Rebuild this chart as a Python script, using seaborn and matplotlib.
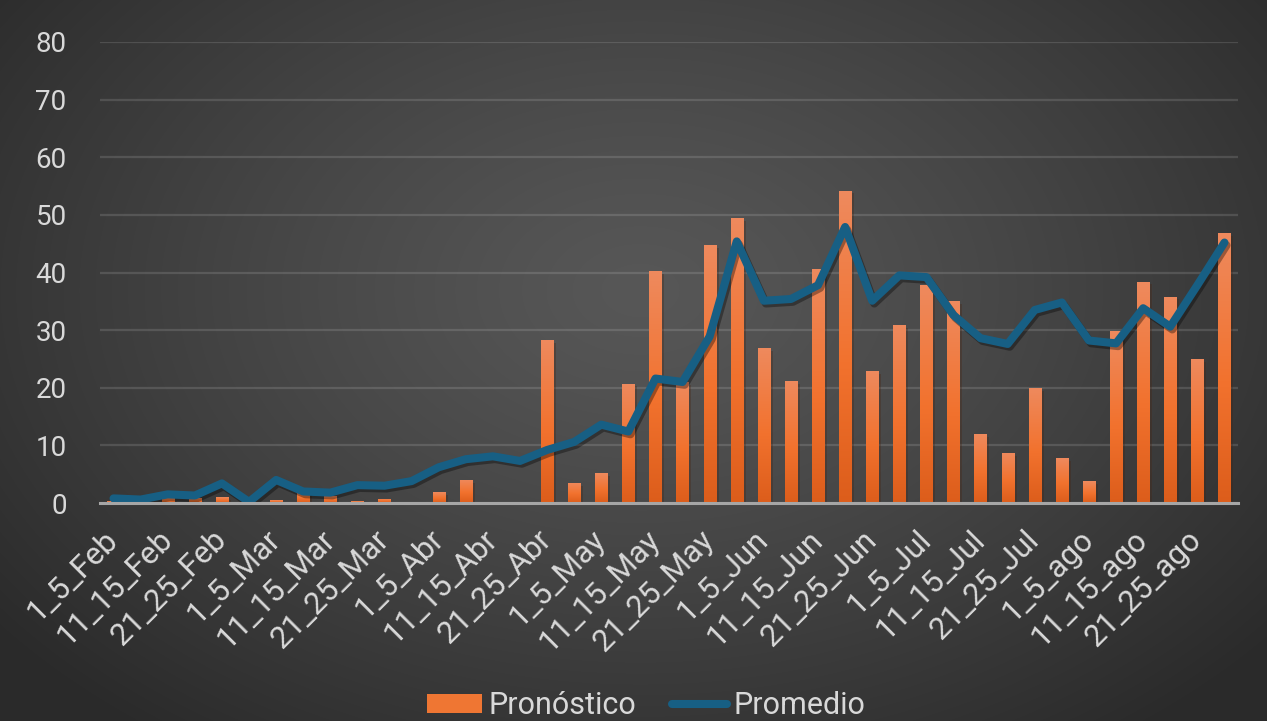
import numpy as np
import matplotlib
matplotlib.use("Agg")
import matplotlib.pyplot as plt
import matplotlib.patheffects as pe
from matplotlib.colors import LinearSegmentedColormap
from matplotlib.patches import Patch
from matplotlib.lines import Line2D
import seaborn as sns
import pandas as pd

# Five-day periods, February to August
periods = [
    "1_5_Feb", "6_10_Feb", "11_15_Feb", "16_20_Feb", "21_25_Feb", "26_28_Feb",
    "1_5_Mar", "6_10_Mar", "11_15_Mar", "16_20_Mar", "21_25_Mar", "26_31_Mar",
    "1_5_Abr", "6_10_Abr", "11_15_Abr", "16_20_Abr", "21_25_Abr", "26_30_Abr",
    "1_5_May", "6_10_May", "11_15_May", "16_20_May", "21_25_May", "26_31_May",
    "1_5_Jun", "6_10_Jun", "11_15_Jun", "16_20_Jun", "21_25_Jun", "26_30_Jun",
    "1_5_Jul", "6_10_Jul", "11_15_Jul", "16_20_Jul", "21_25_Jul", "26_31_Jul",
    "1_5_ago", "6_10_ago", "11_15_ago", "16_20_ago", "21_25_ago", "26_31_ago",
]

pronostico = [
    0.3, 0.0, 0.8, 0.8, 1.0, 0.0,
    0.5, 1.8, 1.2, 0.3, 0.7, 0.2,
    1.9, 4.0, 0.0, 0.0, 28.2, 3.5,
    5.2, 20.7, 40.3, 21.0, 44.8, 49.5,
    26.9, 21.2, 40.6, 54.2, 22.9, 30.9,
    37.8, 35.1, 12.0, 8.7, 20.0, 7.8,
    3.8, 29.9, 38.4, 35.8, 25.0, 46.9,
]

promedio = [
    0.8, 0.6, 1.5, 1.3, 3.4, 0.2,
    4.0, 2.0, 1.8, 3.1, 3.0, 3.8,
    6.2, 7.6, 8.1, 7.3, 9.2, 10.6,
    13.6, 12.4, 21.6, 21.0, 28.9, 45.4,
    35.1, 35.4, 37.8, 47.9, 35.1, 39.5,
    39.2, 32.6, 28.6, 27.6, 33.5, 34.8,
    28.2, 27.7, 33.8, 30.6, 37.8, 45.2,
]

y_ticks = [0, 10, 20, 30, 40, 50, 60, 70, 80]

df = pd.DataFrame({"periodo": periods, "Pronóstico": pronostico, "Promedio": promedio})
df["pos"] = np.arange(len(df))

sns.set_theme(style="white")
plt.rcParams["font.family"] = ["Roboto", "DejaVu Sans"]

TEXT = "#d9d9d9"
LINE = "#175f84"

fig = plt.figure(figsize=(12.67, 7.21), dpi=100)
fig.patch.set_facecolor("#2c2c2c")

# Radial backdrop, lighter toward the middle of the chart
bg = fig.add_axes([0, 0, 1, 1], zorder=-10)
W, H = 1267, 721
xx, yy = np.meshgrid(np.arange(W), np.arange(H))
r = np.sqrt(((xx - 640) / 820.0) ** 2 + ((yy - 290) / 560.0) ** 2)
r = np.clip(r, 0, 1) ** 1.25
shade = (0x57 - r * (0x57 - 0x2a)) / 255.0
bg.imshow(np.dstack([shade, shade, shade]), aspect="auto", interpolation="bilinear")
bg.set_axis_off()

ax = fig.add_axes([100 / W, 1 - 503 / H, 1138 / W, 461 / H])
ax.set_facecolor("none")

sns.barplot(data=df, x="periodo", y="Pronóstico", color="#ef7633", width=0.45,
            saturation=1, ax=ax, zorder=3, edgecolor="none", linewidth=0)

# Vertical orange gradient inside every bar, plus a soft drop shadow
grad = np.linspace(0, 1, 256).reshape(-1, 1)
bar_cmap = LinearSegmentedColormap.from_list(
    "bar", [(0.0, "#dc5d1b"), (0.45, "#f2722e"), (1.0, "#ee8a5e")])
for p in list(ax.patches):
    h = p.get_height()
    if h <= 0:
        continue
    p.set_path_effects([pe.SimplePatchShadow(offset=(2, -2), alpha=0.3), pe.Normal()])
    x0, y0, w = p.get_x(), p.get_y(), p.get_width()
    im = ax.imshow(grad, extent=[x0, x0 + w, y0, y0 + h], origin="lower",
                   cmap=bar_cmap, aspect="auto", zorder=3.1, interpolation="bilinear")
    im.set_clip_path(p)

sns.lineplot(data=df, x="pos", y="Promedio", color=LINE, linewidth=5.8, ax=ax,
             zorder=5, sort=False)
ln = ax.lines[-1]
ln.set_solid_joinstyle("round")
ln.set_solid_capstyle("round")
ln.set_path_effects([pe.SimpleLineShadow(offset=(1.5, -2), shadow_color="black", alpha=0.35),
                     pe.Normal()])

ax.set_xlim(-0.5, len(periods) - 0.5)
ax.set_ylim(0, 80)
ax.set_yticks(y_ticks)
ax.set_yticklabels([str(v) for v in y_ticks])
ax.set_xticks(np.arange(0, len(periods), 2))
ax.set_xticklabels(periods[::2], rotation=45, ha="right", va="center",
                   rotation_mode="anchor")
ax.tick_params(axis="both", length=0, colors=TEXT)
ax.tick_params(axis="y", pad=24, labelsize=20)
ax.tick_params(axis="x", pad=23, labelsize=22.5)
ax.set_xlabel("")
ax.set_ylabel("")

ax.grid(axis="y", color="white", alpha=0.13, linewidth=1.6, zorder=0)
ax.grid(axis="x", visible=False)
for side in ("top", "right", "left"):
    ax.spines[side].set_visible(False)
ax.spines["bottom"].set_color("#a6a6a6")
ax.spines["bottom"].set_linewidth(2.2)
ax.spines["bottom"].set_zorder(6)

handles = [
    Patch(facecolor="#ef7633", edgecolor="none", label="Pronóstico"),
    Line2D([0], [0], color=LINE, linewidth=5.8, solid_capstyle="round", label="Promedio"),
]
fig.legend(handles=handles, loc="lower center", bbox_to_anchor=(0.51, -0.037), ncol=2,
           frameon=False, fontsize=22, labelcolor=TEXT, handlelength=1.8,
           handleheight=0.6, handletextpad=0.2, columnspacing=1.2)

fig.savefig("out.png", dpi=100, facecolor=fig.get_facecolor())
